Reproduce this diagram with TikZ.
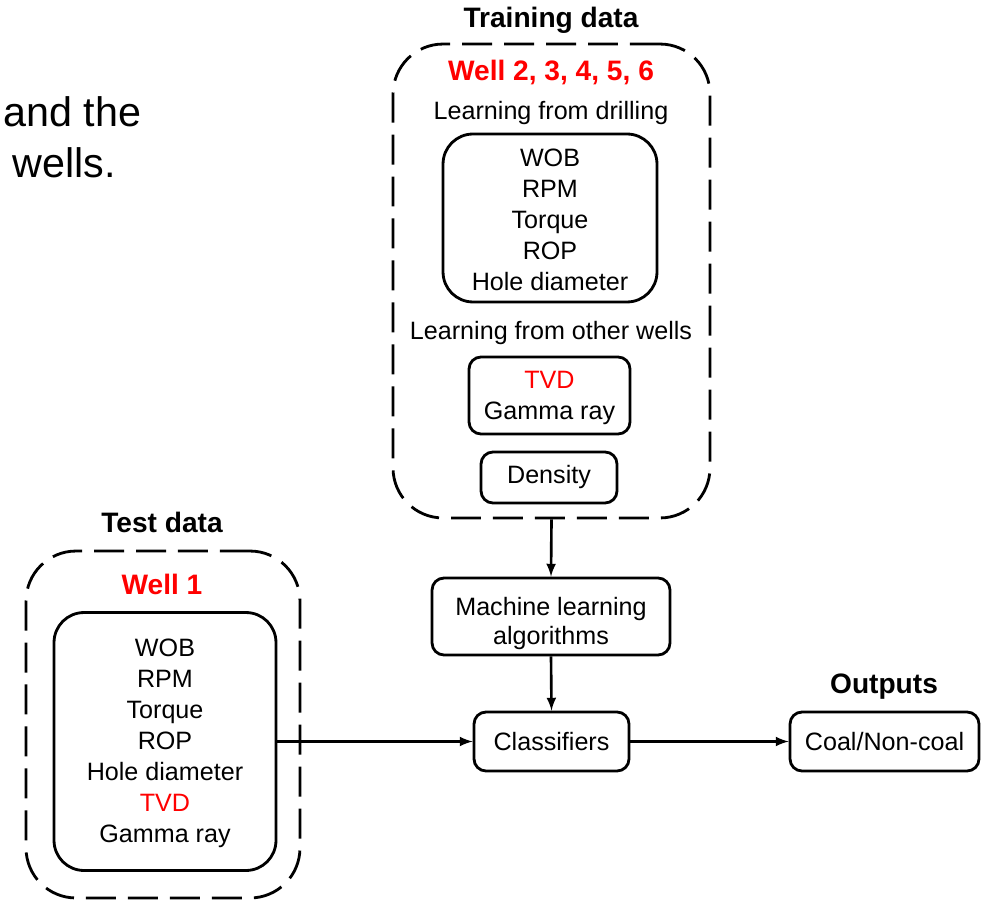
\documentclass[tikz,border=0pt]{standalone}
\usepackage{fontspec}
\setmainfont{Liberation Sans}
\usetikzlibrary{positioning}

\tikzset{
  box/.style={draw, line width=1.6pt, rounded corners=0.24cm, align=center, inner sep=0pt},
  bigbox/.style={box, rounded corners=0.6cm},
  group/.style={draw, line width=1.6pt, dash pattern=on 0.6cm off 0.24cm, rounded corners=1cm, inner sep=0pt},
  head/.style={font=\fontsize{16pt}{19pt}\selectfont\bfseries},
  well/.style={head, text=red},
  frag/.style={anchor=base west, inner sep=0pt, font=\fontsize{23.5pt}{28pt}\selectfont},
}

\begin{document}
\begin{tikzpicture}[>=latex, x=0.02cm, y=-0.02cm, font=\fontsize{14.3pt}{17.6pt}\selectfont]
  \useasboundingbox (0,0) rectangle (982,901);

  % cut-off caption text
  \node (frag1) at (3,127) [frag] {and the};
  \node (frag2) at (12,178) [frag] {wells.};

  % training data
  \node (trainhead) at (551,20) [head] {Training data};
  \node (train) at (551.5,281) [group, minimum width=6.34cm, minimum height=9.48cm] {};
  \node (wells) at (551,72) [well] {Well 2, 3, 4, 5, 6};
  \node (drill) at (551,113) {Learning from drilling};
  \node (drillbox) at (550,218) [bigbox, minimum width=4.28cm, minimum height=3.36cm] {\rule{0pt}{12pt}WOB\\RPM\\Torque\\ROP\\Hole diameter};
  \node (other) at (551,333) {Learning from other wells};
  \node (logbox) at (549.5,395.5) [box, minimum width=3.22cm, minimum height=1.54cm] {\rule{0pt}{12.5pt}\textcolor{red}{TVD}\\Gamma ray};
  \node (dens) at (549,477.5) [box, minimum width=2.72cm, minimum height=1.02cm] {Density};

  % model
  \node (ml) at (551,616.5) [box, minimum width=4.76cm, minimum height=1.54cm] {\rule{0pt}{18pt}Machine learning\\[-1.1pt]algorithms};
  \node (clf) at (551.5,741.5) [box, minimum width=3.1cm, minimum height=1.18cm] {Classifiers};

  % outputs
  \node (outhead) at (884,687) [head] {Outputs};
  \node (out) at (884.5,741.5) [box, minimum width=3.78cm, minimum height=1.18cm] {Coal/Non-coal};

  % test data
  \node (testhead) at (162,522) [head] {Test data};
  \node (test) at (163,724.5) [group, minimum width=5.48cm, minimum height=6.94cm] {};
  \node (well1) at (162,584) [well] {Well 1};
  \node (testbox) at (165,741.5) [bigbox, minimum width=4.44cm, minimum height=5.16cm] {\rule{0pt}{12pt}WOB\\RPM\\Torque\\ROP\\Hole diameter\\\textcolor{red}{TVD}\\Gamma ray};

  \draw [->, line width=1.5pt] (train.south) -- (ml.north);
  \draw [->, line width=1.5pt] (ml.south) -- (clf.north);
  \draw [->, line width=1.5pt] (testbox.east) -- (clf.west);
  \draw [->, line width=1.5pt] (clf.east) -- (out.west);
\end{tikzpicture}
\end{document}
